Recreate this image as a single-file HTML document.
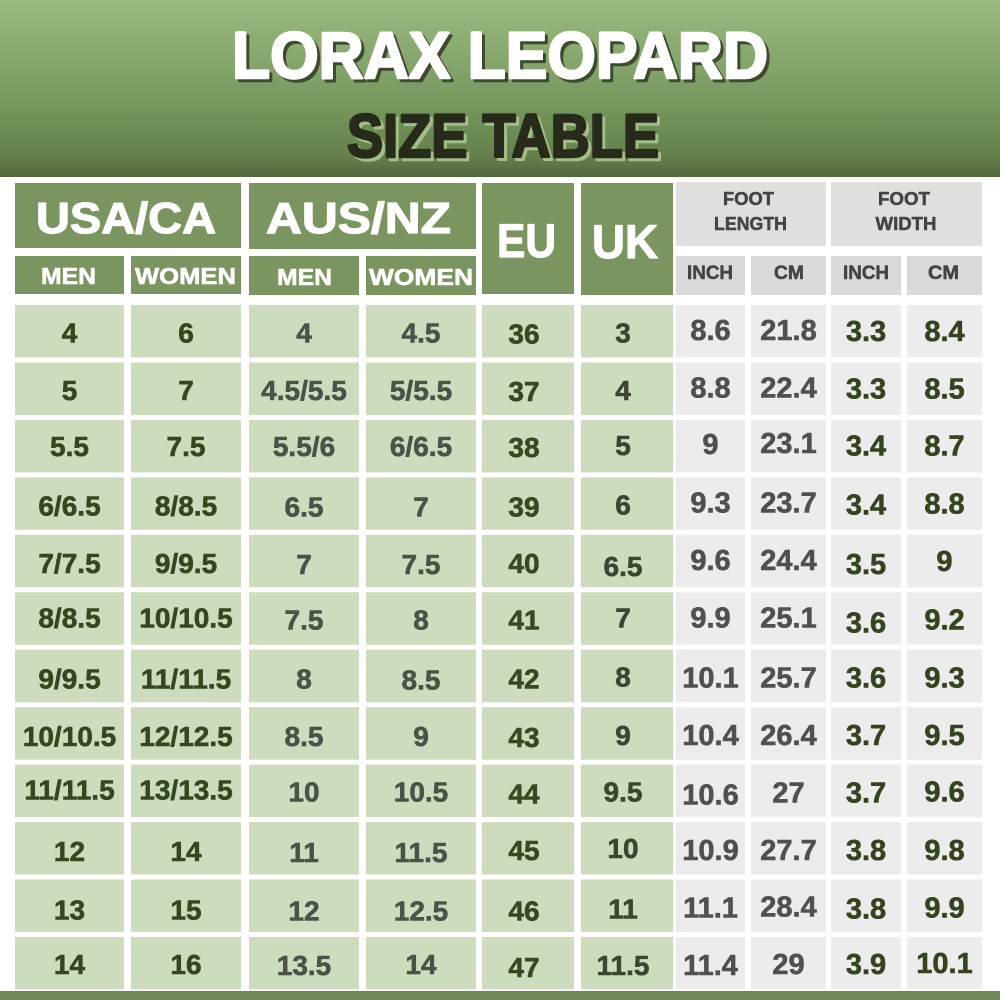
<!DOCTYPE html>
<html><head><meta charset="utf-8"><style>
html,body{margin:0;padding:0;background:#fff;}
svg{display:block;}
text{font-family:"Liberation Sans",Arial,sans-serif;font-weight:bold;text-anchor:middle;stroke-linejoin:round;}
.u{font-size:28px;fill:#34481f;stroke:#34481f;stroke-width:0.6px;}
.a{font-size:28px;fill:#4b5247;stroke:#4b5247;stroke-width:0.6px;}
.e{font-size:28px;fill:#364a22;stroke:#364a22;stroke-width:0.6px;}
.k{font-size:28px;fill:#3b4530;stroke:#3b4530;stroke-width:0.6px;}
.l{font-size:29px;fill:#505050;stroke:#505050;stroke-width:0.6px;}
.w{font-size:29px;fill:#34441f;stroke:#34441f;stroke-width:0.6px;}
.hw{fill:#fff;stroke:#fff;stroke-width:1.2px;}
.hs{fill:#fff;stroke:#fff;stroke-width:0.6px;}
.hg{fill:#444;stroke:#444;stroke-width:0.5px;}
</style></head><body>
<svg width="1000" height="1000" viewBox="0 0 1000 1000" xmlns="http://www.w3.org/2000/svg">
<defs>
<linearGradient id="hdr" x1="0" y1="0" x2="0" y2="1">
<stop offset="0" stop-color="#9bba80"/>
<stop offset="0.55" stop-color="#789a60"/>
<stop offset="0.88" stop-color="#65804c"/>
<stop offset="1" stop-color="#52673e"/>
</linearGradient>
<g id="rowbg">
<rect x="15" y="0" width="109" height="52.5" fill="#cddcbd"/>
<rect x="131" y="0" width="110" height="52.5" fill="#cddcbd"/>
<rect x="249" y="0" width="110" height="52.5" fill="#cddcbd"/>
<rect x="366" y="0" width="110" height="52.5" fill="#cddcbd"/>
<rect x="482" y="0" width="92" height="52.5" fill="#cddcbd"/>
<rect x="581" y="0" width="92" height="52.5" fill="#cddcbd"/>
<rect x="676" y="0" width="69" height="52.5" fill="#ececec"/>
<rect x="751" y="0" width="75" height="52.5" fill="#ececec"/>
<rect x="831" y="0" width="70" height="52.5" fill="#ececec"/>
<rect x="907" y="0" width="75" height="52.5" fill="#ececec"/>
</g>
</defs>
<rect x="0" y="0" width="1000" height="1000" fill="#fff"/>
<rect x="0" y="0" width="1000" height="177" fill="url(#hdr)"/>
<rect x="0" y="991" width="1000" height="9" fill="#6f8658"/>

<!-- Title -->
<text x="503" y="81" font-size="66" textLength="536" lengthAdjust="spacingAndGlyphs" fill="#3d4a2e" stroke="#3d4a2e" stroke-width="2.5">LORAX LEOPARD</text>
<text x="500" y="78" font-size="66" textLength="536" lengthAdjust="spacingAndGlyphs" fill="#ffffff" stroke="#ffffff" stroke-width="2.5">LORAX LEOPARD</text>
<text x="506" y="160" font-size="61" textLength="312" lengthAdjust="spacingAndGlyphs" fill="#a3bd88" stroke="#a3bd88" stroke-width="2.5">SIZE TABLE</text>
<text x="503" y="157" font-size="61" textLength="312" lengthAdjust="spacingAndGlyphs" fill="#262b1a" stroke="#262b1a" stroke-width="2.5">SIZE TABLE</text>

<!-- Header cells -->
<rect x="15" y="183" width="226" height="65" fill="#7a955f"/>
<rect x="249" y="183" width="227" height="66" fill="#7a955f"/>
<rect x="15" y="256" width="109" height="38" fill="#7a955f"/>
<rect x="131" y="256" width="110" height="38" fill="#7a955f"/>
<rect x="249" y="256" width="110" height="39" fill="#7a955f"/>
<rect x="366" y="256" width="110" height="39" fill="#7a955f"/>
<rect x="482" y="183" width="92" height="111" fill="#7a955f"/>
<rect x="581" y="183" width="92" height="112" fill="#7a955f"/>
<rect x="676" y="182" width="150" height="64" fill="#dfdfdf"/>
<rect x="831" y="182" width="151" height="64" fill="#dfdfdf"/>
<rect x="676" y="256" width="69" height="39" fill="#dadada"/>
<rect x="751" y="256" width="75" height="39" fill="#dadada"/>
<rect x="831" y="256" width="70" height="39" fill="#dadada"/>
<rect x="907" y="256" width="75" height="39" fill="#dadada"/>

<text class="hw" x="126" y="233" font-size="44" textLength="180" lengthAdjust="spacingAndGlyphs">USA/CA</text>
<text class="hw" x="358.5" y="233" font-size="44" textLength="185" lengthAdjust="spacingAndGlyphs">AUS/NZ</text>
<text class="hw" x="526.5" y="257" font-size="47" textLength="59" lengthAdjust="spacingAndGlyphs">EU</text>
<text class="hw" x="625" y="258" font-size="47" textLength="66" lengthAdjust="spacingAndGlyphs">UK</text>
<text class="hs" x="68.5" y="284" font-size="23" textLength="55" lengthAdjust="spacingAndGlyphs">MEN</text>
<text class="hs" x="185.5" y="284" font-size="23" textLength="101" lengthAdjust="spacingAndGlyphs">WOMEN</text>
<text class="hs" x="304.5" y="285" font-size="23" textLength="55" lengthAdjust="spacingAndGlyphs">MEN</text>
<text class="hs" x="421" y="285" font-size="23" textLength="104" lengthAdjust="spacingAndGlyphs">WOMEN</text>
<text class="hg" x="748.5" y="205" font-size="18" textLength="51" lengthAdjust="spacingAndGlyphs">FOOT</text>
<text class="hg" x="750.5" y="230" font-size="18" textLength="73" lengthAdjust="spacingAndGlyphs">LENGTH</text>
<text class="hg" x="904" y="205" font-size="18" textLength="52" lengthAdjust="spacingAndGlyphs">FOOT</text>
<text class="hg" x="906" y="230" font-size="18" textLength="61" lengthAdjust="spacingAndGlyphs">WIDTH</text>
<text class="hg" x="710" y="279" font-size="19" textLength="46" lengthAdjust="spacingAndGlyphs">INCH</text>
<text class="hg" x="789" y="279" font-size="19" textLength="30" lengthAdjust="spacingAndGlyphs">CM</text>
<text class="hg" x="866" y="279" font-size="19" textLength="46" lengthAdjust="spacingAndGlyphs">INCH</text>
<text class="hg" x="943.5" y="279" font-size="19" textLength="31" lengthAdjust="spacingAndGlyphs">CM</text>

<!-- Data rows -->
<g transform="translate(0,305)"><use href="#rowbg"/>
<text class="u" x="69.5" y="37.5">4</text><text class="u" x="186" y="37.5">6</text><text class="a" x="304" y="37.5">4</text><text class="a" x="421" y="37.5">4.5</text><text class="e" x="524" y="38.5">36</text><text class="k" x="623" y="37.5">3</text><text class="l" x="710.5" y="35">8.6</text><text class="l" x="788.5" y="35">21.8</text><text class="w" x="866" y="36">3.3</text><text class="w" x="944.5" y="36">8.4</text></g>

<g transform="translate(0,362.45)"><use href="#rowbg"/>
<text class="u" x="69.5" y="37.5">5</text><text class="u" x="186" y="37.5">7</text><text class="a" x="304" y="37.5">4.5/5.5</text><text class="a" x="421" y="37.5">5/5.5</text><text class="e" x="524" y="38.5">37</text><text class="k" x="623" y="37.5">4</text><text class="l" x="710.5" y="35">8.8</text><text class="l" x="788.5" y="35">22.4</text><text class="w" x="866" y="36">3.3</text><text class="w" x="944.5" y="36">8.5</text></g>

<g transform="translate(0,419.9)"><use href="#rowbg"/>
<text class="u" x="69.5" y="36">5.5</text><text class="u" x="186" y="36">7.5</text><text class="a" x="304" y="36">5.5/6</text><text class="a" x="421" y="36">6/6.5</text><text class="e" x="524" y="37">38</text><text class="k" x="623" y="35">5</text><text class="l" x="710.5" y="34">9</text><text class="l" x="788.5" y="33">23.1</text><text class="w" x="866" y="35.5">3.4</text><text class="w" x="944.5" y="35.5">8.7</text></g>

<g transform="translate(0,477.35)"><use href="#rowbg"/>
<text class="u" x="69.5" y="38">6/6.5</text><text class="u" x="186" y="38">8/8.5</text><text class="a" x="304" y="39">6.5</text><text class="a" x="421" y="39">7</text><text class="e" x="524" y="39">39</text><text class="k" x="623" y="37">6</text><text class="l" x="710.5" y="35">9.3</text><text class="l" x="788.5" y="35">23.7</text><text class="w" x="866" y="37">3.4</text><text class="w" x="944.5" y="36">8.8</text></g>

<g transform="translate(0,534.8)"><use href="#rowbg"/>
<text class="u" x="69.5" y="38">7/7.5</text><text class="u" x="186" y="38">9/9.5</text><text class="a" x="304" y="39">7</text><text class="a" x="421" y="39">7.5</text><text class="e" x="524" y="38">40</text><text class="k" x="623" y="41">6.5</text><text class="l" x="710.5" y="35">9.6</text><text class="l" x="788.5" y="35">24.4</text><text class="w" x="866" y="39">3.5</text><text class="w" x="944.5" y="36">9</text></g>

<g transform="translate(0,592.25)"><use href="#rowbg"/>
<text class="u" x="69.5" y="35">8/8.5</text><text class="u" x="186" y="35">10/10.5</text><text class="a" x="304" y="37">7.5</text><text class="a" x="421" y="37">8</text><text class="e" x="524" y="37">41</text><text class="k" x="623" y="35">7</text><text class="l" x="710.5" y="35">9.9</text><text class="l" x="788.5" y="35">25.1</text><text class="w" x="866" y="40">3.6</text><text class="w" x="944.5" y="37">9.2</text></g>

<g transform="translate(0,649.7)"><use href="#rowbg"/>
<text class="u" x="69.5" y="39">9/9.5</text><text class="u" x="186" y="39">11/11.5</text><text class="a" x="304" y="39">8</text><text class="a" x="421" y="40">8.5</text><text class="e" x="524" y="39">42</text><text class="k" x="623" y="37">8</text><text class="l" x="710.5" y="38">10.1</text><text class="l" x="788.5" y="38">25.7</text><text class="w" x="866" y="38">3.6</text><text class="w" x="944.5" y="38">9.3</text></g>

<g transform="translate(0,707.15)"><use href="#rowbg"/>
<text class="u" x="69.5" y="39">10/10.5</text><text class="u" x="186" y="39">12/12.5</text><text class="a" x="304" y="39">8.5</text><text class="a" x="421" y="39">9</text><text class="e" x="524" y="40">43</text><text class="k" x="623" y="38">9</text><text class="l" x="710.5" y="38">10.4</text><text class="l" x="788.5" y="38">26.4</text><text class="w" x="866" y="38">3.7</text><text class="w" x="944.5" y="38">9.5</text></g>

<g transform="translate(0,764.6)"><use href="#rowbg"/>
<text class="u" x="69.5" y="35">11/11.5</text><text class="u" x="186" y="35">13/13.5</text><text class="a" x="304" y="37">10</text><text class="a" x="421" y="37">10.5</text><text class="e" x="524" y="39">44</text><text class="k" x="623" y="37">9.5</text><text class="l" x="710.5" y="40">10.6</text><text class="l" x="788.5" y="38">27</text><text class="w" x="866" y="38">3.7</text><text class="w" x="944.5" y="37">9.6</text></g>

<g transform="translate(0,822.05)"><use href="#rowbg"/>
<text class="u" x="69.5" y="39">12</text><text class="u" x="186" y="39">14</text><text class="a" x="304" y="40">11</text><text class="a" x="421" y="40">11.5</text><text class="e" x="524" y="38">45</text><text class="k" x="623" y="36">10</text><text class="l" x="710.5" y="38">10.9</text><text class="l" x="788.5" y="38">27.7</text><text class="w" x="866" y="38">3.8</text><text class="w" x="944.5" y="38">9.8</text></g>

<g transform="translate(0,879.5)"><use href="#rowbg"/>
<text class="u" x="69.5" y="40">13</text><text class="u" x="186" y="40">15</text><text class="a" x="304" y="41">12</text><text class="a" x="421" y="41">12.5</text><text class="e" x="524" y="41">46</text><text class="k" x="623" y="39">11</text><text class="l" x="710.5" y="38">11.1</text><text class="l" x="788.5" y="37">28.4</text><text class="w" x="866" y="39">3.8</text><text class="w" x="944.5" y="38">9.9</text></g>

<g transform="translate(0,936.95)"><use href="#rowbg"/>
<text class="u" x="69.5" y="37">14</text><text class="u" x="186" y="37">16</text><text class="a" x="304" y="38">13.5</text><text class="a" x="421" y="37">14</text><text class="e" x="524" y="40">47</text><text class="k" x="623" y="38">11.5</text><text class="l" x="710.5" y="38">11.4</text><text class="l" x="788.5" y="37">29</text><text class="w" x="866" y="37">3.9</text><text class="w" x="944.5" y="36">10.1</text></g>
</svg>
</body></html>
